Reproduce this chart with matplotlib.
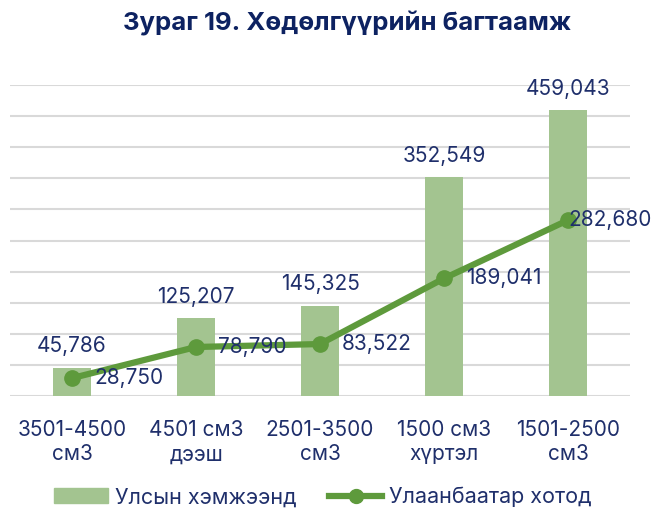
import matplotlib
matplotlib.use("Agg")
import matplotlib.pyplot as plt
from matplotlib.lines import Line2D
from matplotlib.patches import Patch

categories = ["3501-4500\nсм3", "4501 см3\nдээш", "2501-3500\nсм3", "1500 см3\nхүртэл", "1501-2500\nсм3"]
national = [45786, 125207, 145325, 352549, 459043]
ulaanbaatar = [28750, 78790, 83522, 189041, 282680]
title = "Зураг 19. Хөдөлгүүрийн багтаамж"
legend_labels = ["Улсын хэмжээнд", "Улаанбаатар хотод"]

BAR = "#a3c490"
LINE = "#5e9a3c"
TXT = "#1f2f6b"
TITLE = "#0d2261"
GRID = "#d9d9d9"

plt.rcParams['font.family'] = ['Inter', 'DejaVu Sans']

fig = plt.figure(figsize=(6.52, 5.08), dpi=100)
ax = fig.add_axes([10/652, 1-396/508, 620/652, (396-85)/508])

x = list(range(len(categories)))
ax.bar(x, national, width=0.31, color=BAR, zorder=2)
ax.plot(x, ulaanbaatar, color=LINE, lw=4.5, marker='o', ms=11, zorder=3)

ax.set_xlim(-0.5, len(categories) - 0.5)
ax.set_ylim(0, 500000)
ax.set_yticks(range(0, 500001, 50000))
ax.yaxis.grid(True, color=GRID, lw=1.5, zorder=0)
ax.set_axisbelow(True)
for s in ax.spines.values():
    s.set_visible(False)
ax.tick_params(axis='y', left=False, labelleft=False)
ax.tick_params(axis='x', bottom=False, pad=14)
ax.set_xticks(x)
ax.set_xticklabels(categories, fontsize=15, color=TXT, linespacing=1.25)

for i, v in enumerate(national):
    ax.annotate(f"{v:,}", (i, v), xytext=(0, 8), textcoords='offset points',
                ha='center', va='bottom', fontsize=15, color=TXT)
for i, v in enumerate(ulaanbaatar):
    off = 16 if i < len(ulaanbaatar) - 1 else 0
    ax.annotate(f"{v:,}", (i, v), xytext=(off, 0), textcoords='offset points',
                ha='left', va='center', fontsize=15, color=TXT, zorder=4)

fig.text(347/652, 1-24/508, title, ha='center', va='center', fontsize=18.5,
         fontweight='bold', color=TITLE)

handles = [Patch(color=BAR), Line2D([0], [0], color=LINE, lw=4.5, marker='o', ms=10)]
fig.legend(handles, legend_labels, loc='center', bbox_to_anchor=(323/652, 1-497/508),
           ncol=2, frameon=False, fontsize=15.5, labelcolor=TXT, handlelength=2.5,
           handletextpad=0.3, columnspacing=1.5)

fig.savefig("out.png", dpi=100)
